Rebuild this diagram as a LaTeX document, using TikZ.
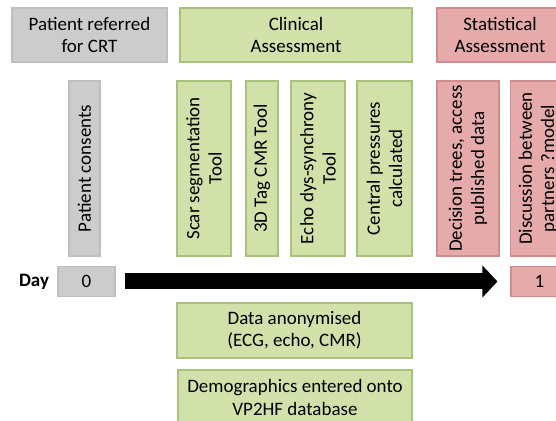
\documentclass[tikz,border=0pt]{standalone}
\usepackage{fontspec}
\setmainfont{Carlito}
\usetikzlibrary{arrows.meta, positioning}
\definecolor{greyfill}{HTML}{CCCCCC}
\definecolor{greyline}{HTML}{BFBFBF}
\definecolor{greenfill}{HTML}{D2E0A9}
\definecolor{greenline}{HTML}{A8C27C}
\definecolor{redfill}{HTML}{E6AAAB}
\definecolor{redline}{HTML}{D08D8F}

\begin{document}
\begin{tikzpicture}[
    x=0.02cm, y=-0.02cm,
    box/.style={draw, line width=0.6pt, align=center, inner sep=0pt, text=black,
        font=\fontsize{10.8}{12.6}\selectfont},
    greybox/.style={box, fill=greyfill, draw=greyline},
    greenbox/.style={box, fill=greenfill, draw=greenline},
    redbox/.style={box, fill=redfill, draw=redline},
    upright/.style={rotate=90, minimum width=3.5cm},
    bigarrow/.style={-{Triangle[length=0.3cm, width=0.62cm]}, line width=0.32cm,
        shorten <=0.18cm, shorten >=0.26cm},
]
\useasboundingbox (0,0) rectangle (556,421);
\clip (0,0) rectangle (556,421);

% === HEADER BOXES ===
\node[greybox, minimum width=3.1cm, minimum height=1.08cm] (refer) at (89.5,35) {Patient referred\\for CRT};
\node[greenbox, minimum width=4.64cm, minimum height=1.08cm] (clinical) at (296,35) {Clinical\\Assessment};
\node[redbox, minimum width=2.52cm, minimum height=1.08cm] (stats) at (500,35) {Statistical\\Assessment};

% === UPRIGHT BOXES ===
\foreach \x/\w/\name/\sty/\txt in {
    84.5/0.62/consents/greybox/Patient consents,
    204/1.08/scar/greenbox/Scar segmentation\\Tool,
    262/0.64/tag/greenbox/3D Tag CMR Tool,
    318/1.08/echo/greenbox/Echo dys-synchrony\\Tool,
    384.5/1.10/central/greenbox/Central pressures\\calculated,
    468/1.24/decision/redbox/{Decision trees, access\\published data},
    538/1.10/discussion/redbox/Discussion between\\partners ?model%
}{
    \node[\sty, upright, minimum height=\w cm] (\name) at (\x,168.5) {\txt};
}

% === TIMELINE ===
\node[font=\fontsize{10.8}{12.6}\selectfont\bfseries] (day) at (34,281.5) {Day};
\node[greybox, minimum width=1.14cm, minimum height=0.6cm] (zero) at (86.5,281.5) {0};
\node[redbox, minimum width=1.14cm, minimum height=0.6cm] (one) at (539.5,281.5) {1};
\draw[bigarrow] (zero.east) -- (one.west);

% === LOWER BOXES ===
\node[greenbox, minimum width=4.7cm, minimum height=1.1cm] (anon) at (294.5,330.5) {Data anonymised\\(ECG, echo, CMR)};
\node[greenbox, minimum width=4.68cm, minimum height=1.1cm] (demo) at (295,397.5) {Demographics entered onto\\VP2HF database};

\end{tikzpicture}
\end{document}
